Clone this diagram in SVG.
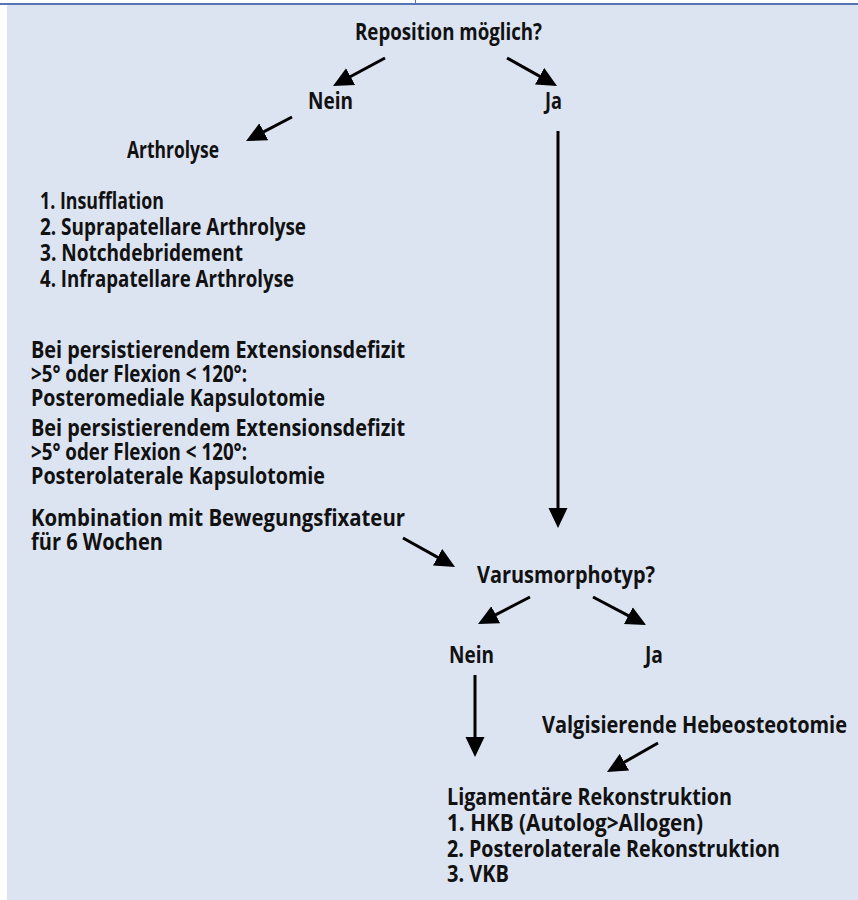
<svg xmlns="http://www.w3.org/2000/svg" width="858" height="900" viewBox="0 0 858 900">
<style>
text{font-family:"Open Sans","Noto Sans","Liberation Sans",sans-serif;font-weight:700;font-size:23px;fill:#111;}
.c{stroke:#000;stroke-width:3;fill:none;marker-end:url(#ah);}
</style>
<defs>
<marker id="ah" viewBox="0 0 20 20" markerWidth="20" markerHeight="20" markerUnits="userSpaceOnUse" refX="10" refY="10" orient="auto">
<path d="M0,0.5 L20,10 L0,19.5 z" fill="#000"/>
</marker>
</defs>
<rect x="0" y="0" width="858" height="900" fill="#fff"/>
<rect x="7" y="5" width="851" height="895" fill="#dce3f1"/>
<line x1="0" y1="4" x2="858" y2="4" stroke="#5674b6" stroke-width="2"/>
<line x1="415.5" y1="0" x2="415.5" y2="4" stroke="#5674b6" stroke-width="1"/>

<g id="connectors">
<line class="c" x1="385" y1="58" x2="341.8" y2="81.3"/>
<line class="c" x1="507" y1="58" x2="548.3" y2="81.1"/>
<line class="c" x1="292" y1="117" x2="254.9" y2="136.4"/>
<line class="c" x1="558" y1="131" x2="558" y2="518"/>
<line class="c" x1="403" y1="538" x2="446.3" y2="562.1"/>
<line class="c" x1="530" y1="597" x2="486.9" y2="619.4"/>
<line class="c" x1="593" y1="597" x2="637.2" y2="620.3"/>
<line class="c" x1="475" y1="675" x2="475" y2="747"/>
<line class="c" x1="658" y1="743" x2="615.7" y2="767.1"/>
</g>

<g id="reposition"><text x="355" y="40" textLength="187" lengthAdjust="spacingAndGlyphs">Reposition möglich?</text></g>
<g id="nein1"><text x="308" y="109" textLength="45" lengthAdjust="spacingAndGlyphs">Nein</text></g>
<g id="ja1"><text x="545" y="109" textLength="17" lengthAdjust="spacingAndGlyphs">Ja</text></g>
<g id="arthrolyse"><text x="127" y="158" textLength="92" lengthAdjust="spacingAndGlyphs">Arthrolyse</text></g>
<g id="liste"><text>
<tspan x="40" y="209" textLength="124" lengthAdjust="spacingAndGlyphs">1. Insufflation</tspan>
<tspan x="40" y="235" textLength="266" lengthAdjust="spacingAndGlyphs">2. Suprapatellare Arthrolyse</tspan>
<tspan x="40" y="261" textLength="203" lengthAdjust="spacingAndGlyphs">3. Notchdebridement</tspan>
<tspan x="40" y="287" textLength="254" lengthAdjust="spacingAndGlyphs">4. Infrapatellare Arthrolyse</tspan>
</text></g>
<g id="posteromedial"><text>
<tspan x="31" y="358" textLength="374" lengthAdjust="spacingAndGlyphs">Bei persistierendem Extensionsdefizit</tspan>
<tspan x="31" y="382" textLength="216" lengthAdjust="spacingAndGlyphs">&gt;5° oder Flexion &lt; 120°:</tspan>
<tspan x="31" y="406" textLength="294" lengthAdjust="spacingAndGlyphs">Posteromediale Kapsulotomie</tspan>
</text></g>
<g id="posterolateral"><text>
<tspan x="31" y="436" textLength="374" lengthAdjust="spacingAndGlyphs">Bei persistierendem Extensionsdefizit</tspan>
<tspan x="31" y="460" textLength="216" lengthAdjust="spacingAndGlyphs">&gt;5° oder Flexion &lt; 120°:</tspan>
<tspan x="31" y="484" textLength="294" lengthAdjust="spacingAndGlyphs">Posterolaterale Kapsulotomie</tspan>
</text></g>
<g id="fixateur"><text>
<tspan x="31" y="526" textLength="374" lengthAdjust="spacingAndGlyphs">Kombination mit Bewegungsfixateur</tspan>
<tspan x="31" y="550" textLength="132" lengthAdjust="spacingAndGlyphs">für 6 Wochen</tspan>
</text></g>
<g id="varus"><text x="477" y="583" textLength="178" lengthAdjust="spacingAndGlyphs">Varusmorphotyp?</text></g>
<g id="nein2"><text x="449" y="663" textLength="45" lengthAdjust="spacingAndGlyphs">Nein</text></g>
<g id="ja2"><text x="645" y="663" textLength="18" lengthAdjust="spacingAndGlyphs">Ja</text></g>
<g id="hebeosteotomie"><text x="542" y="733" textLength="305" lengthAdjust="spacingAndGlyphs">Valgisierende Hebeosteotomie</text></g>
<g id="rekonstruktion"><text>
<tspan x="447" y="805" textLength="285" lengthAdjust="spacingAndGlyphs">Ligamentäre Rekonstruktion</tspan>
<tspan x="447" y="831" textLength="256" lengthAdjust="spacingAndGlyphs">1. HKB (Autolog&gt;Allogen)</tspan>
<tspan x="447" y="857" textLength="333" lengthAdjust="spacingAndGlyphs">2. Posterolaterale Rekonstruktion</tspan>
<tspan x="447" y="882" textLength="62" lengthAdjust="spacingAndGlyphs">3. VKB</tspan>
</text></g>
</svg>
